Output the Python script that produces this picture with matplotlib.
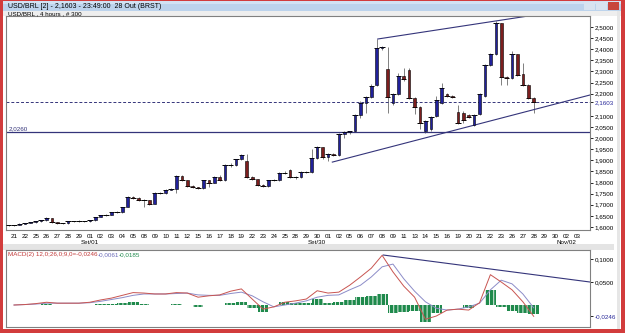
import matplotlib.pyplot as plt
from matplotlib.patches import Rectangle
import numpy as np

plt.rcParams['font.family'] = ['Liberation Sans Narrow', 'Liberation Sans', 'DejaVu Sans']
plt.rcParams['hatch.linewidth'] = 0.6

# candles de meio dia (USD/BRL, 21/ago a 28/out)
opens = [1.607, 1.608, 1.610, 1.615, 1.619, 1.622, 1.626, 1.631, 1.640, 1.622,
         1.617, 1.617, 1.626, 1.626, 1.627, 1.626, 1.630, 1.645, 1.654, 1.654,
         1.667, 1.667, 1.690, 1.735, 1.730, 1.722, 1.720, 1.705, 1.753, 1.753,
         1.768, 1.770, 1.830, 1.810, 1.785, 1.778, 1.775, 1.810, 1.800, 1.825,
         1.810, 1.880, 1.880, 1.905, 1.895, 1.825, 1.815, 1.790, 1.785, 1.810,
         1.810, 1.843, 1.857, 1.825, 1.825, 1.848, 1.848, 1.910, 1.960, 1.915,
         1.930, 1.925, 2.020, 2.027, 2.030, 2.104, 2.158, 2.185, 2.240, 2.405,
         2.310, 2.160, 2.200, 2.280, 2.305, 2.180, 2.140, 2.030, 2.040, 2.100,
         2.160, 2.200, 2.190, 2.117, 2.115, 2.104, 2.059, 2.110, 2.190, 2.330,
         2.378, 2.518, 2.275, 2.270, 2.378, 2.290, 2.240, 2.180]
highs = [1.610, 1.611, 1.616, 1.620, 1.623, 1.627, 1.633, 1.643, 1.641, 1.624,
         1.620, 1.628, 1.629, 1.631, 1.629, 1.632, 1.647, 1.656, 1.657, 1.669,
         1.671, 1.692, 1.738, 1.740, 1.733, 1.726, 1.722, 1.756, 1.757, 1.770,
         1.774, 1.833, 1.836, 1.812, 1.790, 1.782, 1.813, 1.812, 1.828, 1.836,
         1.883, 1.886, 1.908, 1.930, 1.927, 1.830, 1.818, 1.794, 1.813, 1.816,
         1.847, 1.850, 1.862, 1.830, 1.851, 1.852, 1.950, 1.965, 1.962, 1.935,
         1.935, 2.024, 2.030, 2.034, 2.110, 2.165, 2.190, 2.245, 2.445, 2.415,
         2.410, 2.205, 2.295, 2.315, 2.315, 2.185, 2.145, 2.082, 2.100, 2.190,
         2.250, 2.205, 2.195, 2.150, 2.120, 2.110, 2.108, 2.205, 2.335, 2.382,
         2.527, 2.520, 2.280, 2.390, 2.380, 2.340, 2.245, 2.185]
lows = [1.604, 1.606, 1.609, 1.613, 1.617, 1.620, 1.624, 1.629, 1.620, 1.614,
        1.614, 1.615, 1.623, 1.624, 1.623, 1.624, 1.628, 1.643, 1.650, 1.652,
        1.664, 1.665, 1.688, 1.727, 1.718, 1.690, 1.700, 1.703, 1.748, 1.750,
        1.765, 1.752, 1.806, 1.782, 1.775, 1.772, 1.770, 1.780, 1.798, 1.806,
        1.808, 1.872, 1.876, 1.900, 1.820, 1.810, 1.786, 1.780, 1.782, 1.805,
        1.806, 1.838, 1.822, 1.818, 1.820, 1.842, 1.845, 1.905, 1.905, 1.898,
        1.918, 1.920, 2.000, 2.020, 2.026, 2.090, 2.113, 2.180, 2.235, 2.398,
        2.113, 2.150, 2.195, 2.255, 2.175, 2.110, 2.040, 2.025, 2.030, 2.095,
        2.155, 2.185, 2.180, 2.065, 2.070, 2.090, 2.055, 2.105, 2.185, 2.325,
        2.372, 2.240, 2.240, 2.265, 2.280, 2.235, 2.175, 2.113]
closes = [1.608, 1.610, 1.615, 1.619, 1.622, 1.626, 1.631, 1.640, 1.622, 1.617,
          1.617, 1.626, 1.626, 1.627, 1.626, 1.630, 1.645, 1.654, 1.654, 1.667,
          1.667, 1.690, 1.735, 1.730, 1.722, 1.720, 1.705, 1.753, 1.753, 1.768,
          1.770, 1.830, 1.810, 1.785, 1.778, 1.775, 1.810, 1.800, 1.825, 1.810,
          1.880, 1.880, 1.905, 1.925, 1.825, 1.815, 1.790, 1.785, 1.810, 1.810,
          1.843, 1.843, 1.825, 1.825, 1.848, 1.848, 1.910, 1.960, 1.915, 1.930,
          1.925, 2.020, 2.027, 2.030, 2.104, 2.158, 2.185, 2.235, 2.405, 2.410,
          2.185, 2.200, 2.280, 2.265, 2.180, 2.140, 2.070, 2.077, 2.095, 2.170,
          2.225, 2.190, 2.185, 2.070, 2.080, 2.095, 2.104, 2.200, 2.330, 2.378,
          2.518, 2.275, 2.270, 2.378, 2.284, 2.240, 2.180, 2.1603]

# MACD(12,26,9) diario
macd = [0.000, 0.001, 0.003, 0.006, 0.004, 0.004, 0.004, 0.006, 0.011, 0.015,
        0.021, 0.027, 0.026, 0.024, 0.024, 0.027, 0.026, 0.017, 0.020, 0.022,
        0.030, 0.035, 0.013, -0.009, -0.004, 0.006, 0.009, 0.013, 0.031, 0.026,
        0.028, 0.043, 0.061, 0.080, 0.108, 0.072, 0.041, 0.017, -0.031, -0.024,
        -0.011, -0.009, -0.011, 0.005, 0.066, 0.050, 0.033, 0.007, -0.0246]
signal = [0.000, 0.001, 0.002, 0.004, 0.004, 0.004, 0.004, 0.005, 0.008, 0.012,
          0.016, 0.021, 0.024, 0.024, 0.024, 0.025, 0.026, 0.022, 0.021, 0.021,
          0.025, 0.028, 0.020, 0.007, -0.004, 0.000, 0.004, 0.009, 0.017, 0.021,
          0.022, 0.033, 0.043, 0.061, 0.083, 0.089, 0.057, 0.030, 0.007, -0.007,
          -0.011, -0.009, -0.004, 0.004, 0.033, 0.054, 0.046, 0.024, -0.0061]

day_labels = ['21', '22', '25', '26', '27', '28', '29',
              '01', '02', '03', '04', '05', '08', '09', '10', '11', '12', '15', '16', '17',
              '18', '19', '22', '23', '24', '25', '28', '29', '30',
              '01', '02', '05', '06', '07', '08', '09', '11', '13', '14', '15', '16', '19',
              '20', '21', '22', '23', '26', '27', '28', '29', '30',
              '02', '03']
month_labels = {7: 'Set/01', 28: 'Set/30', 51: 'Nov/02'}

support = 2.026
last = 2.1603
upper_line = ([33.6, 47.5], [2.446, 2.5495])
lower_line = ([29.4, 53.2], [1.892, 2.194])
macd_line = ([34.1, 53.2], [0.1087, 0.050])

W, H = 625, 333
fig = plt.figure(figsize=(6.25, 3.33), dpi=100, facecolor='white')

def box(x0, y0, x1, y1):
    return [x0 / W, 1 - y1 / H, (x1 - x0) / W, (y1 - y0) / H]

def rect(x0, y0, x1, y1, color, z=0):
    fig.add_artist(Rectangle((x0 / W, 1 - y1 / H), (x1 - x0) / W, (y1 - y0) / H,
                             transform=fig.transFigure, color=color, lw=0, zorder=z))

# moldura da janela
rect(0, 0, W, 11, '#bcd3ec')
rect(0, 0, W, 4, '#d2e2f3')
rect(0, 11, W, 16, '#eeeeee')
rect(0, 244, 614, 250, '#e4e4e4')
rect(617, 11, 620, 330, '#e6e6e6')
rect(0, 0, W, 1.2, '#d23c3c', 5)
rect(0, 0, 2.5, H, '#d23c3c', 5)
rect(W - 4, 0, W, H, '#d23c3c', 5)
rect(0, H - 4, W, H, '#d23c3c', 5)
for bx, c in [(584, '#d8e4f0'), (596, '#d8e4f0'), (608, '#c8463c')]:
    rect(bx, 2, bx + 11, 10, c, 4)
fig.text(8 / W, 1 - 6 / H, 'USD/BRL [2] - 2,1603 - 23:49:00  28 Out (BRST)',
         fontsize=5, va='center', ha='left')
fig.text(8 / W, 1 - 13.3 / H, 'USD/BRL , 4 hours , # 300', fontsize=4.5,
         va='center', ha='left')

ax = fig.add_axes(box(6, 16, 590, 230))
ax2 = fig.add_axes(box(6, 250, 590, 327))

# candles
o = np.array(opens)
h = np.array(highs)
l = np.array(lows)
c = np.array(closes)
x = (np.arange(len(c)) - 1) * 0.5
ax.vlines(x, l, h, color='#808080', lw=0.7, zorder=2)
ax.hlines(c, x - 0.25, x + 0.25, color='black', lw=0.7, zorder=3)
moved = np.abs(c - o) > 0.002
up = moved & (c >= o)
down = moved & (c < o)
ax.bar(x[up], (c - o)[up], bottom=o[up], width=0.24, color='#20209a',
       edgecolor='black', lw=0.4, zorder=4)
ax.bar(x[down], (c - o)[down], bottom=o[down], width=0.24, color='#7c1e1e',
       edgecolor='black', lw=0.4, zorder=4)

navy = '#34347a'
ax.axhline(support, color=navy, lw=0.9)
ax.axhline(last, color=navy, lw=0.7, ls=(0, (3, 2)))
ax.plot(*upper_line, color=navy, lw=0.8)
ax.plot(*lower_line, color=navy, lw=0.8)
ax.text(0.004, support + 0.004, '2,0260', transform=ax.get_yaxis_transform(),
        fontsize=4.5, color=navy, va='bottom')

ax.set_xlim(-0.74, 53.2)
ax.set_ylim(1.5864, 2.5495)
yt = [round(1.60 + 0.05 * i, 2) for i in range(19)]
yt = [v for v in yt if v != 2.15] + [last]
ax.yaxis.tick_right()
ax.set_yticks(yt)
ax.set_yticklabels([f'{v:.4f}'.replace('.', ',') for v in yt])
ax.get_yticklabels()[-1].set_color('#2a2a9a')
ax.set_xticks(range(len(day_labels)))
ax.set_xticklabels(day_labels)
ax.tick_params(axis='y', labelsize=4.5, length=2.5, pad=0.8, width=0.6)
ax.tick_params(axis='x', labelsize=4.5, length=0, pad=3)
for k, lab in month_labels.items():
    ax.text(k, -0.045, lab, transform=ax.get_xaxis_transform(), fontsize=4.5,
            ha='center', va='top')

# MACD
xd = np.arange(len(macd))
hist = np.array(macd) - np.array(signal)
ax2.bar(xd, hist, width=1.0, color='#1f8a4c', edgecolor='white', lw=0,
        hatch='||||')
ax2.plot(xd, signal, color='#8c8cc8', lw=0.7)
ax2.plot(xd, macd, color='#c85450', lw=0.7)
ax2.plot(*macd_line, color=navy, lw=0.8)
ax2.set_xlim(-0.74, 53.2)
ax2.set_ylim(-0.0478, 0.1196)
ax2.yaxis.tick_right()
ax2.set_yticks([0.1, 0.05, -0.0246])
ax2.set_yticklabels(['0,1000', '0,0500', '-0,0246'])
ax2.get_yticklabels()[-1].set_color('#2a2a9a')
ax2.set_xticks([])
ax2.tick_params(axis='y', labelsize=4.5, length=2.5, pad=0.8, width=0.6)
t1 = ax2.text(0.003, 0.97, 'MACD(2) 12,0;26,0;9,0=-0,0246', transform=ax2.transAxes,
              fontsize=4.5, color='#c03838', va='top')
t2 = ax2.annotate('-0,0061', xy=(1, 0), xycoords=t1, fontsize=4.5,
                  color='#6a6ab8', va='bottom')
ax2.annotate('-0,0185', xy=(1, 0), xycoords=t2, fontsize=4.5,
             color='#1f8a4c', va='bottom')

for a in (ax, ax2):
    for s in a.spines.values():
        s.set_color('#808080')
        s.set_linewidth(0.8)

fig.savefig('out.png', dpi=100, facecolor='white')
